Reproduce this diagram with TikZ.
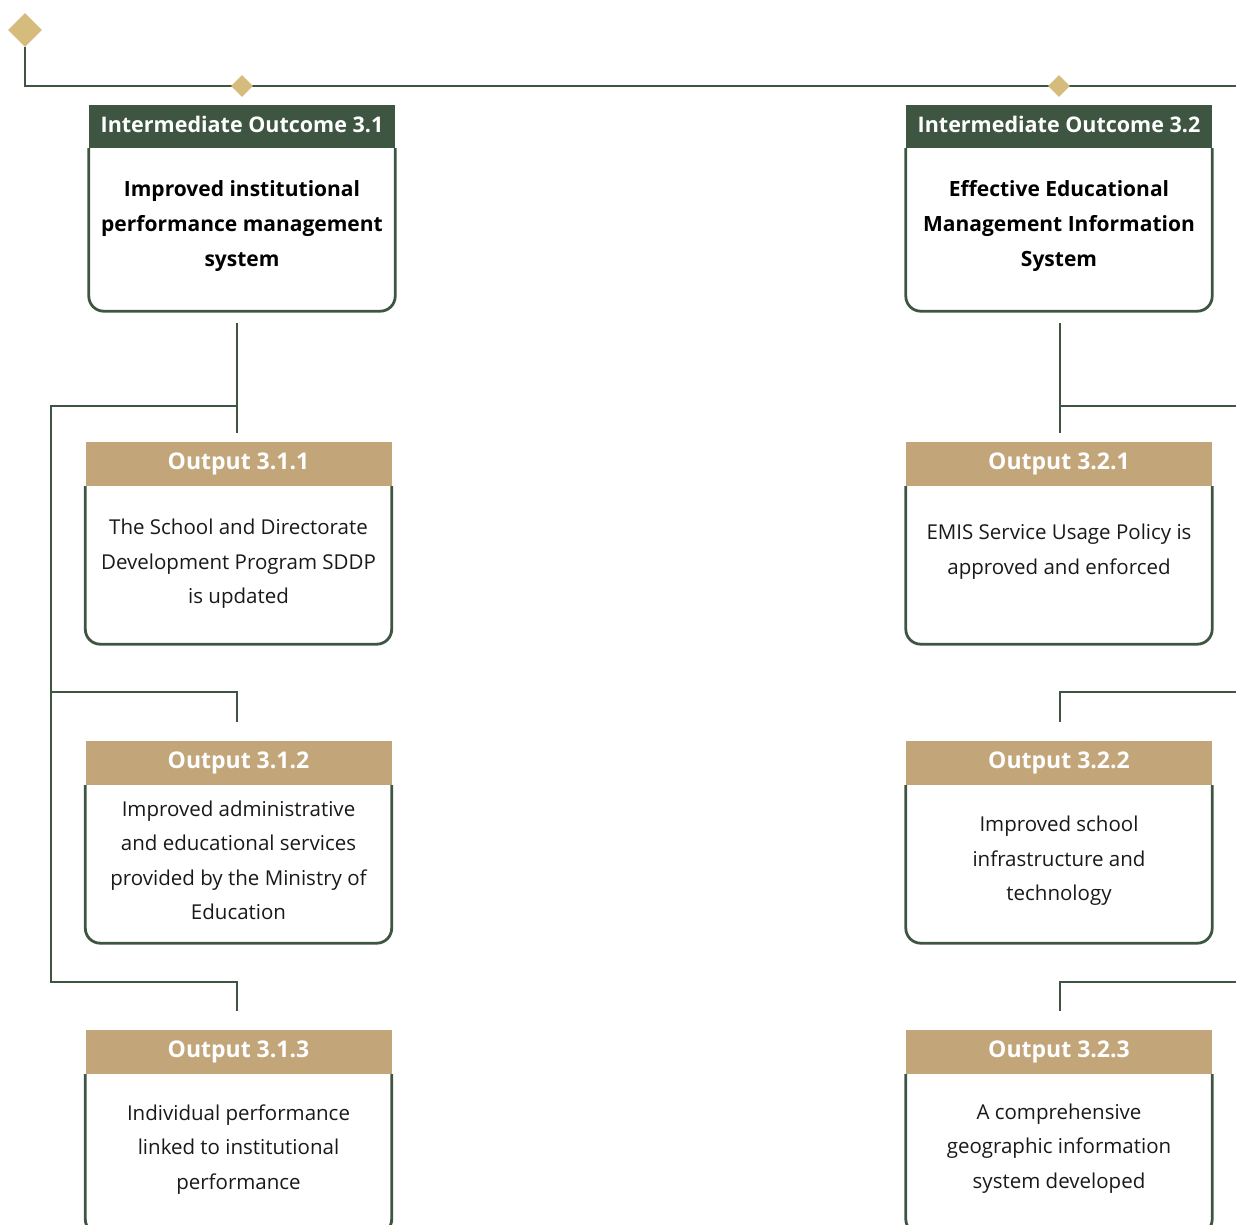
\documentclass[tikz,border=0pt]{standalone}
\usepackage{fontspec}
\setmainfont{Open Sans}
\usetikzlibrary{shapes.geometric}
\definecolor{dg}{HTML}{3E5641}
\definecolor{tan}{HTML}{C3A57A}
\definecolor{gold}{HTML}{D6BC7C}
\tikzset{
  ln/.style={draw=dg, line width=2.8pt},
  dia/.style={diamond, fill=gold, inner sep=0pt, minimum size=#1},
  iohead/.style={fill=dg, text=white, font=\bfseries\fontsize{21.5}{24}\selectfont, minimum width=306pt, minimum height=43pt, inner sep=0pt},
  ohead/.style={fill=tan, text=white, font=\bfseries\fontsize{23}{26}\selectfont, minimum width=306pt, minimum height=44pt, inner sep=0pt},
  bodyshape/.style={minimum width=306pt, inner sep=0pt},
  iotext/.style={align=center, font=\bfseries\fontsize{21}{35}\selectfont, text=black},
  otext/.style={align=center, font=\fontsize{20.5}{34.5}\selectfont, text=black!90},
  outline/.style={ln, rounded corners=15pt},
}
\begin{document}
\begin{tikzpicture}[x=1pt,y=-1pt]
\useasboundingbox (0,0) rectangle (1236,1225);
% top line
\node[dia=34pt] (top) at (25,30) {};
\coordinate (corner) at (25,86);
\coordinate (rightend) at (1240,86);
\draw[ln] (top.south) -- (corner) -- (rightend);
\node[dia=22pt] (d1) at (242,86) {};
\node[dia=22pt] (d2) at (1059,86) {};

% Intermediate outcome 3.1
\node[iohead] (h31) at (242,126.5) {\raisebox{4pt}{Intermediate Outcome 3.1}};
\node[bodyshape, minimum height=163pt] (b31) at (242,229.5) {};
\draw[outline] (h31.south west) -- (b31.south west) -- (b31.south east) -- (h31.south east);
\node[iotext] (t31) at (242,226) {Improved institutional\\performance management\\system};

% Intermediate outcome 3.2
\node[iohead] (h32) at (1059,126.5) {\raisebox{4pt}{Intermediate Outcome 3.2}};
\node[bodyshape, minimum height=163pt] (b32) at (1059,229.5) {};
\draw[outline] (h32.south west) -- (b32.south west) -- (b32.south east) -- (h32.south east);
\node[iotext] (t32) at (1059,226) {Effective Educational\\Management Information\\System};

% Output boxes left
\node[ohead] (h311) at (238.5,464) {\raisebox{4pt}{Output 3.1.1}};
\node[bodyshape, minimum height=158pt] (b311) at (238.5,565) {};
\draw[outline] (h311.south west) -- (b311.south west) -- (b311.south east) -- (h311.south east);
\node[otext] (t311) at (238.5,564) {The School and Directorate\\Development Program SDDP\\is updated};

\node[ohead] (h312) at (238.5,763) {\raisebox{4pt}{Output 3.1.2}};
\node[bodyshape, minimum height=158pt] (b312) at (238.5,864) {};
\draw[outline] (h312.south west) -- (b312.south west) -- (b312.south east) -- (h312.south east);
\node[otext] (t312) at (238.5,860.5) {Improved administrative\\and educational services\\provided by the Ministry of\\Education};

\node[ohead] (h313) at (238.5,1052) {\raisebox{4pt}{Output 3.1.3}};
\node[bodyshape, minimum height=160pt] (b313) at (238.5,1154) {};
\draw[outline] (h313.south west) -- (b313.south west) -- (b313.south east) -- (h313.south east);
\node[otext] (t313) at (238.5,1149.5) {Individual performance\\linked to institutional\\performance};

% Output boxes right
\node[ohead] (h321) at (1059,464) {\raisebox{4pt}{Output 3.2.1}};
\node[bodyshape, minimum height=158pt] (b321) at (1059,565) {};
\draw[outline] (h321.south west) -- (b321.south west) -- (b321.south east) -- (h321.south east);
\node[otext] (t321) at (1059,551.5) {EMIS Service Usage Policy is\\approved and enforced};

\node[ohead] (h322) at (1059,763) {\raisebox{4pt}{Output 3.2.2}};
\node[bodyshape, minimum height=158pt] (b322) at (1059,864) {};
\draw[outline] (h322.south west) -- (b322.south west) -- (b322.south east) -- (h322.south east);
\node[otext] (t322) at (1059,861) {Improved school\\infrastructure and\\technology};

\node[ohead] (h323) at (1059,1052) {\raisebox{4pt}{Output 3.2.3}};
\node[bodyshape, minimum height=160pt] (b323) at (1059,1154) {};
\draw[outline] (h323.south west) -- (b323.south west) -- (b323.south east) -- (h323.south east);
\node[otext] (t323) at (1059,1148.5) {A comprehensive\\geographic information\\system developed};

% left connectors
\coordinate (l0) at (237,323);
\coordinate (l1) at (237,433);
\coordinate (lj) at (237,406);
\coordinate (lx1) at (51,406);
\coordinate (lx2) at (51,692);
\coordinate (lx3) at (51,982);
\coordinate (l2a) at (237,692);
\coordinate (l2b) at (237,722);
\coordinate (l3a) at (237,982);
\coordinate (l3b) at (237,1011);
\draw[ln] (l0) -- (l1);
\draw[ln] (lj) -- (lx1) -- (lx3) -- (l3a) -- (l3b);
\draw[ln] (lx2) -- (l2a) -- (l2b);

% right connectors
\coordinate (r0) at (1060,323);
\coordinate (r1) at (1060,433);
\coordinate (rj) at (1060,406);
\coordinate (rx1) at (1240,406);
\coordinate (rx2) at (1240,692);
\coordinate (rx3) at (1240,982);
\coordinate (r2a) at (1060,692);
\coordinate (r2b) at (1060,722);
\coordinate (r3a) at (1060,982);
\coordinate (r3b) at (1060,1011);
\draw[ln] (r0) -- (r1);
\draw[ln] (rj) -- (rx1);
\draw[ln] (rx2) -- (r2a) -- (r2b);
\draw[ln] (rx3) -- (r3a) -- (r3b);
\end{tikzpicture}
\end{document}
